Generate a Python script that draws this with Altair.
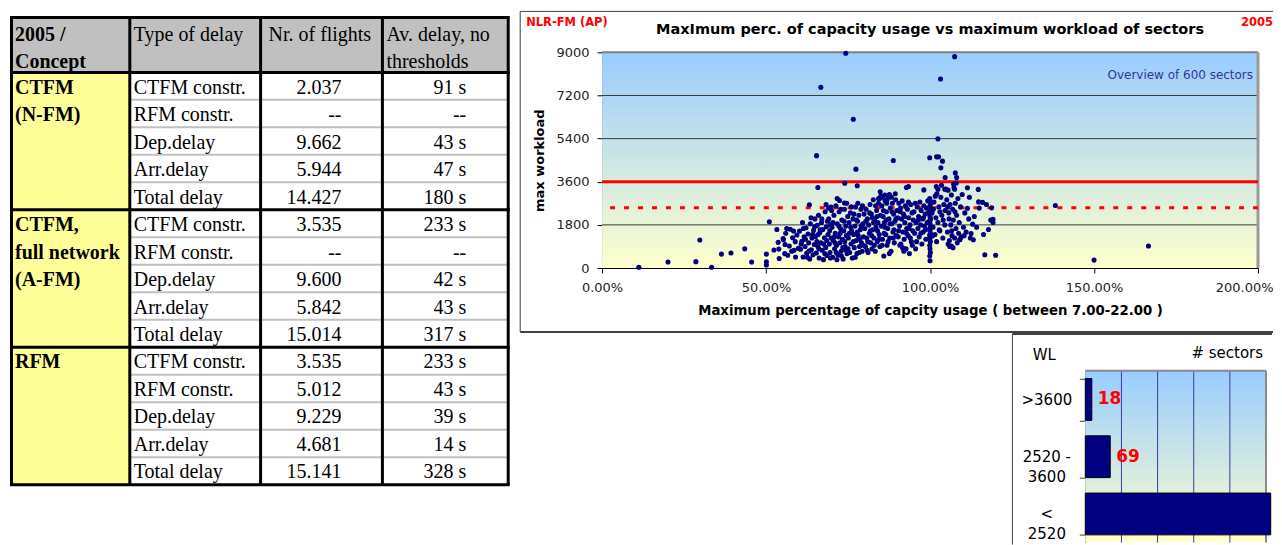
import altair as alt
import pandas as pd

# ---------------- data: table ----------------
header_cells = ["2005 /|Concept", "Type of delay", "Nr. of flights", "Av. delay, no|thresholds"]
concepts = ["CTFM|(N-FM)", "CTFM,|full network|(A-FM)", "RFM"]
delay_types = ["CTFM constr.", "RFM constr.", "Dep.delay", "Arr.delay", "Total delay"]
flights = [
    ["2.037", "--", "9.662", "5.944", "14.427"],
    ["3.535", "--", "9.600", "5.842", "15.014"],
    ["3.535", "5.012", "9.229", "4.681", "15.141"],
]
avg_delay = [
    ["91 s", "--", "43 s", "47 s", "180 s"],
    ["233 s", "--", "42 s", "43 s", "317 s"],
    ["233 s", "43 s", "39 s", "14 s", "328 s"],
]

# ---------------- data: scatter (max % capacity usage, max workload) ----------------
sectors = [
    (74.3, 8960), (107.5, 8820), (103.2, 7890), (66.7, 7540), (76.6, 6210), (102.4, 5390),
    (65.4, 4690), (88.8, 4490), (99.9, 4600), (102.0, 4640), (102.6, 4640), (103.8, 4460),
    (77.4, 4125), (103.3, 4180), (107.7, 3970), (104.6, 3780), (108.1, 3780), (74.0, 3540),
    (77.8, 3430), (65.8, 3360), (84.8, 3180), (87.6, 3070), (92.8, 3360), (93.4, 3400),
    (98.1, 3260), (71.7, 2900), (72.4, 2820), (73.9, 2710), (63.2, 2640), (68.3, 2650),
    (69.8, 2540), (51.0, 1930), (45.6, 250), (50.1, 580), (50.1, 260), (50.1, 125),
    (53.3, 1610), (56.3, 1650), (55.3, 1180), (53.7, 1070), (53.9, 790), (52.4, 750),
    (55.7, 600), (54.0, 400), (58.4, 1540), (58.5, 740),
    (101.9, 3400), (102.4, 3290), (104.5, 3290), (107.2, 3500), (107.5, 3290), (111.4, 3350),
    (114.7, 3280), (109.8, 3070), (112.0, 2950), (114.8, 2760), (116.0, 2740), (117.2, 2650),
    (118.8, 2510), (111.4, 2490), (119.2, 2030), (119.2, 1900), (113.0, 1830), (117.8, 1610),
    (112.5, 1440), (113.2, 1180), (110.4, 1350), (109.1, 1180), (116.7, 555), (120.0, 530),
    (138.2, 2610), (150.0, 330), (166.6, 920),
    (11.2, 30), (20.1, 250), (28.6, 265), (29.8, 1170), (33.4, 30), (36.4, 580), (39.3, 625),
    (43.5, 800), (105.5, 1000), (106.5, 920),
    (85.5, 2950), (86.2, 3050), (84.3, 2900), (86.9, 2850),
    (55.2, 1230), (56.0, 1450), (57.1, 920), (57.8, 700), (58.9, 1100), (59.4, 1380), (56.6, 530),
    (59.0, 460), (58.1, 1260), (59.8, 820), (57.4, 1620), (55.8, 980),
    (60.2, 1540), (60.5, 780), (60.9, 1120), (61.3, 460), (61.6, 1300), (61.9, 900), (62.2, 1680),
    (62.4, 620), (62.8, 1420), (63.0, 1050), (63.3, 380), (63.5, 1850), (63.8, 760), (64.0, 1250),
    (64.3, 550), (64.5, 1570), (64.7, 980), (64.9, 2050), (61.1, 1900), (62.0, 1200), (63.1, 710),
    (64.2, 1400), (60.7, 1000), (62.6, 450), (64.8, 1720), (63.7, 2100), (61.4, 1650),
    (65.1, 1320), (65.3, 620), (65.6, 1780), (65.8, 900), (66.0, 2200), (66.2, 420), (66.4, 1480),
    (66.7, 1050), (66.9, 1900), (67.1, 740), (67.3, 1610), (67.5, 350), (67.8, 1260), (68.0, 2350),
    (68.2, 860), (68.4, 1720), (68.6, 520), (68.9, 1400), (69.1, 2050), (69.3, 1000), (69.5, 650),
    (69.7, 1820), (69.9, 1250), (65.5, 1100), (66.5, 1600), (67.0, 2050), (67.6, 1000), (68.5, 1150),
    (69.0, 2500), (69.6, 420), (66.1, 800), (67.9, 600), (68.7, 1950), (65.9, 1400), (69.4, 1550),
    (70.1, 1700), (70.3, 450), (70.5, 1150), (70.7, 2200), (70.9, 800), (71.1, 1450), (71.3, 2600),
    (71.5, 950), (71.7, 1850), (71.9, 550), (72.1, 1300), (72.3, 2350), (72.5, 1050), (72.7, 1650),
    (72.9, 700), (73.1, 2000), (73.3, 1200), (73.5, 380), (73.7, 1550), (73.9, 2450), (74.1, 900),
    (74.3, 1750), (74.5, 1350), (74.7, 600), (74.9, 2150), (70.4, 1900), (71.0, 1050), (71.6, 350),
    (72.2, 1750), (72.8, 2450), (73.4, 850), (74.0, 1100), (74.6, 2700), (70.8, 1300), (71.4, 650),
    (72.6, 1450), (73.0, 500), (73.8, 1950), (74.4, 750), (70.0, 2400),
    (75.1, 1250), (75.3, 1900), (75.5, 650), (75.7, 2300), (75.9, 1000), (76.1, 1550), (76.3, 420),
    (76.5, 2050), (76.7, 1400), (76.9, 850), (77.1, 1750), (77.3, 2550), (77.5, 1150), (77.7, 600),
    (77.9, 1950), (78.1, 1350), (78.3, 2200), (78.5, 900), (78.7, 1600), (78.9, 2450), (79.1, 1050),
    (79.3, 700), (79.5, 1850), (79.7, 1300), (79.9, 2250), (75.4, 1450), (76.0, 2550), (76.6, 1100),
    (77.2, 450), (77.8, 1500), (78.4, 650), (79.0, 1750), (79.6, 950), (75.8, 1700), (76.8, 2250),
    (77.6, 2000), (78.6, 1200), (79.4, 2600), (75.0, 800), (78.0, 2700),
    (80.1, 1650), (80.3, 900), (80.5, 2450), (80.7, 1250), (80.9, 2050), (81.1, 650), (81.3, 1800),
    (81.5, 1450), (81.7, 2650), (81.9, 1050), (82.1, 2250), (82.3, 800), (82.5, 1600), (82.7, 2850),
    (82.9, 1250), (83.1, 2000), (83.3, 700), (83.5, 1700), (83.7, 2400), (83.9, 1100), (84.1, 1900),
    (84.3, 2700), (84.5, 1400), (84.7, 900), (84.9, 2200), (80.4, 1950), (81.0, 1100), (81.6, 2300),
    (82.2, 1350), (82.8, 1900), (83.4, 2600), (84.0, 1550), (84.6, 2900), (80.8, 750), (81.8, 1550),
    (82.4, 2100), (83.0, 950), (83.8, 2150), (84.4, 1200), (85.0, 3000),
    (85.1, 1750), (85.3, 2600), (85.5, 1200), (85.7, 2150), (85.9, 500), (86.1, 1900), (86.3, 2800),
    (86.5, 1400), (86.7, 2350), (86.9, 950), (87.1, 1650), (87.3, 3000), (87.5, 2050), (87.7, 1250),
    (87.9, 2500), (88.1, 700), (88.3, 1850), (88.5, 2700), (88.7, 1500), (88.9, 2250), (89.1, 1050),
    (89.3, 1950), (89.5, 2850), (89.7, 1350), (89.9, 2400), (85.4, 950), (86.0, 1450), (86.6, 2000),
    (87.2, 1100), (87.8, 1850), (88.4, 2350), (89.0, 1600), (89.6, 2050), (85.8, 2400), (86.8, 2700),
    (87.6, 600), (88.2, 2950), (88.8, 1250), (89.4, 3100), (86.2, 1700),
    (90.1, 2100), (90.3, 1300), (90.5, 2700), (90.7, 1750), (90.9, 2350), (91.1, 1000), (91.3, 2050),
    (91.5, 2800), (91.7, 1500), (91.9, 2250), (92.1, 1200), (92.3, 1900), (92.5, 2600), (92.7, 800),
    (92.9, 1650), (93.1, 2450), (93.3, 1350), (93.5, 2100), (93.7, 600), (93.9, 1800), (94.1, 2650),
    (94.3, 1100), (94.5, 2300), (94.7, 1550), (94.9, 2000), (90.4, 1550), (91.0, 2500), (91.6, 850),
    (92.2, 2150), (92.8, 1450), (93.4, 2750), (94.0, 1250), (94.6, 950), (90.8, 950), (92.0, 700),
    (93.6, 1650),
    (95.1, 2350), (95.3, 1450), (95.5, 2700), (95.7, 1900), (95.9, 1100), (96.1, 2550), (96.3, 1650),
    (96.5, 2150), (96.7, 1300), (96.9, 2750), (97.1, 1800), (97.3, 2400), (97.5, 1000), (97.7, 2050),
    (97.9, 1500), (98.1, 2600), (98.3, 1750), (98.5, 2250), (98.7, 1200), (98.9, 2500), (99.1, 1900),
    (99.3, 2800), (95.6, 800), (96.4, 2000), (97.2, 1450), (98.0, 2100), (98.6, 1600), (99.5, 2300),
    (100.0, 300), (99.9, 500), (100.1, 650), (100.0, 800), (99.9, 950), (100.1, 1100), (100.0, 1250),
    (99.9, 1350), (100.1, 1450), (100.0, 1550), (99.9, 1650), (100.1, 1750), (100.0, 1850),
    (99.9, 1950), (100.1, 2050), (100.0, 2150), (99.9, 2250), (100.1, 2350), (100.0, 2450),
    (99.9, 2550), (100.1, 2650), (100.0, 2800), (99.9, 2900), (100.0, 1400), (100.1, 1700),
    (100.0, 2000),
    (100.6, 2300), (100.9, 1700), (101.2, 2750), (101.5, 1400), (101.8, 2100), (102.1, 3100),
    (102.4, 1900), (102.7, 2550), (103.0, 1550), (103.3, 2950), (103.6, 2200), (103.9, 1250),
    (104.2, 2650), (104.5, 1800), (104.8, 3300), (101.0, 2450), (102.0, 1100), (103.0, 2350),
    (104.0, 2000), (101.6, 3000), (102.8, 1600), (104.6, 2400), (100.8, 1350), (103.5, 3450),
    (105.1, 2850), (105.3, 1500), (105.5, 3250), (105.7, 2300), (105.9, 1150), (106.1, 2650),
    (106.3, 1800), (106.5, 3050), (106.7, 1350), (106.9, 2450), (107.1, 2000), (107.3, 3350),
    (107.5, 1250), (107.7, 2700), (107.9, 1650), (108.1, 2200), (108.3, 1050), (108.5, 2900),
    (108.7, 1450), (108.9, 1900), (109.1, 1200), (109.3, 2550), (106.0, 900), (107.0, 850),
    (105.8, 2050), (106.6, 1550), (108.0, 3550), (109.5, 1300), (105.4, 2550), (107.6, 2350),
    (110.2, 1700), (110.6, 2300), (111.0, 1500), (111.8, 2050), (112.3, 1250), (113.5, 2150),
    (114.2, 1700), (115.0, 2500), (116.3, 1400), (118.5, 2000),
]
grid_workload = [1800, 5400, 7200]
wl_limit = [3600]
wl_warning = [2520]

# ---------------- data: bar chart ----------------
wl_classes = [">3600", "2520 -|3600", "<|2520"]
n_sectors = [18, 69, 513]
bar_grid = [100, 200, 300, 400]

FONT = "DejaVu Sans"
SERIF = "Liberation Serif"
one = pd.DataFrame({"k": [0]})

# ============================ TABLE ============================
COL_EDGES = [1.5, 120, 251, 373, 499]
HEADER_ROWS = 2
ROWS = 5
n_groups = len(concepts)
total_rows = HEADER_ROWS + n_groups * ROWS

fills = [dict(x0=COL_EDGES[0], x1=COL_EDGES[-1], y0=0, y1=HEADER_ROWS, fill="#C0C0C0")]
for g in range(n_groups):
    fills.append(dict(x0=COL_EDGES[0], x1=COL_EDGES[1], y0=HEADER_ROWS + g * ROWS,
                      y1=HEADER_ROWS + (g + 1) * ROWS, fill="#FFFF99"))
fill_df = pd.DataFrame(fills)

lines = []
for g in range(n_groups):
    for k in range(1, ROWS):
        y = HEADER_ROWS + g * ROWS + k
        lines.append(dict(x0=COL_EDGES[1], x1=COL_EDGES[-1], y0=y, y1=y, c="#C0C0C0", w=2))
for y in [0, HEADER_ROWS] + [HEADER_ROWS + (g + 1) * ROWS for g in range(n_groups)]:
    lines.append(dict(x0=COL_EDGES[0] - 1.5, x1=COL_EDGES[-1] + 1.5, y0=y, y1=y, c="black", w=3))
for x in COL_EDGES:
    lines.append(dict(x0=x, x1=x, y0=0, y1=total_rows, c="black", w=3))
line_df = pd.DataFrame(lines)

texts = []
header_x = [5, 124, 259, 377]
for j, h in enumerate(header_cells):
    for i, ln in enumerate(h.split("|")):
        texts.append(dict(x=header_x[j], y=0.6 + 0.97 * i, t=ln, kind="bold" if j == 0 else "left"))
for g in range(n_groups):
    for i, ln in enumerate(concepts[g].split("|")):
        texts.append(dict(x=5, y=HEADER_ROWS + g * ROWS + i + 0.5, t=ln, kind="bold"))
    for k in range(ROWS):
        yc = HEADER_ROWS + g * ROWS + k + 0.5
        texts.append(dict(x=124, y=yc, t=delay_types[k], kind="left"))
        texts.append(dict(x=332, y=yc, t=flights[g][k], kind="right"))
        texts.append(dict(x=457, y=yc, t=avg_delay[g][k], kind="right"))
text_df = pd.DataFrame(texts)

tx = alt.Scale(domain=[0, 500], range=[0, 500])
ty = alt.Scale(domain=[0, total_rows], range=[9, 477])

t_fill = alt.Chart(fill_df).mark_rect().encode(
    x=alt.X("x0:Q", scale=tx, axis=None), x2="x1:Q",
    y=alt.Y("y0:Q", scale=ty, axis=None), y2="y1:Q",
    color=alt.Color("fill:N", scale=None))
t_lines = alt.Chart(line_df).mark_rule().encode(
    x=alt.X("x0:Q", scale=tx, axis=None), x2="x1:Q",
    y=alt.Y("y0:Q", scale=ty, axis=None), y2="y1:Q",
    color=alt.Color("c:N", scale=None),
    strokeWidth=alt.StrokeWidth("w:Q", scale=None))


def tlayer(kind, align, weight):
    return alt.Chart(text_df).transform_filter(f"datum.kind == '{kind}'").mark_text(
        align=align, baseline="middle", font=SERIF, fontSize=20, fontWeight=weight,
        color="black", dy=1.5).encode(
        x=alt.X("x:Q", scale=tx, axis=None), y=alt.Y("y:Q", scale=ty, axis=None), text="t:N")


table = alt.layer(t_fill, t_lines, tlayer("left", "left", "normal"),
                  tlayer("bold", "left", "bold"), tlayer("right", "right", "normal")
                  ).properties(width=500, height=477)

# ============================ SCATTER ============================
SW, SH = 657, 216
RIGHT_LIMIT = 672  # last visible pixel column relative to the scatter plot origin
sc_df = pd.DataFrame(sectors, columns=["pct", "wl"])
sx = alt.Scale(domain=[0, 200], nice=False)
sy = alt.Scale(domain=[0, 9000], nice=False)
X = alt.X("pct:Q", scale=sx, title="Maximum percentage of capcity usage ( between 7.00-22.00 )",
          axis=alt.Axis(values=[0, 50, 100, 150, 200], labelExpr="format(datum.value / 100, '.2%')",
                        labelAlign={"condition": {"test": "datum.value == 200", "value": "right"},
                                    "value": "center"},
                        labelOffset={"condition": {"test": "datum.value == 200", "value": 15},
                                     "value": 0},
                        grid=False, tickSize=5, tickColor="black", domainColor="black",
                        labelFont=FONT, labelFontSize=13, labelColor="#222", labelPadding=9,
                        labelFlush=False, titleFont=FONT, titleFontSize=13.3, titleFontWeight="bold",
                        titleColor="black", titlePadding=9))
Y = alt.Y("wl:Q", scale=sy, title="max workload",
          axis=alt.Axis(values=[0, 1800, 3600, 5400, 7200, 9000], format="d", grid=False,
                        tickSize=5, tickColor="black", domainColor="black", labelFont=FONT,
                        labelFontSize=13, labelColor="#222", labelPadding=8, titleFont=FONT,
                        titleFontSize=13, titleFontWeight="bold", titleColor="black",
                        titlePadding=10))

grad = alt.LinearGradient(gradient="linear",
                          stops=[alt.GradientStop(color="#99CCFF", offset=0),
                                 alt.GradientStop(color="#FFFFCC", offset=1)],
                          x1=0, x2=0, y1=0, y2=1)

bg_df = pd.DataFrame({"pct": [0], "pct2": [200], "wl": [0], "wl2": [9000]})
s_bg = alt.Chart(bg_df).mark_rect(fill=grad).encode(x=X, x2="pct2:Q", y=Y, y2="wl2:Q")
s_grid = alt.Chart(pd.DataFrame({"wl": grid_workload})).mark_rule(
    color="#3a3a3a", strokeWidth=1).encode(y=Y)
s_top = alt.Chart(pd.DataFrame({"wl": [9000]})).mark_rule(color="#808080", strokeWidth=2).encode(y=Y)
s_right = alt.Chart(pd.DataFrame({"pct": [200]})).mark_rule(color="#9a9a9a", strokeWidth=3).encode(x=X)
s_limit = alt.Chart(pd.DataFrame({"wl": wl_limit})).mark_rule(color="#FF0000", strokeWidth=3).encode(y=Y)
s_warn = alt.Chart(pd.DataFrame({"wl": wl_warning})).mark_rule(
    color="#FF0000", strokeWidth=3, strokeDash=[5, 9]).encode(y=Y)
s_pts = alt.Chart(sc_df).mark_circle(color="#000080", size=26, opacity=1).encode(x=X, y=Y)

frame_style = dict(color="#404040", strokeWidth=1)
s_frame_top = alt.Chart(one).mark_rule(**frame_style).encode(
    x=alt.value(-82), x2=alt.value(RIGHT_LIMIT), y=alt.value(-41))
s_frame_bot = alt.Chart(one).mark_rule(color="#404040", strokeWidth=2).encode(
    x=alt.value(-82), x2=alt.value(RIGHT_LIMIT), y=alt.value(280))
s_frame_left = alt.Chart(one).mark_rule(**frame_style).encode(
    x=alt.value(-82), y=alt.value(-41), y2=alt.value(280))
s_title = alt.Chart(one).mark_text(
    text="MaxImum perc. of capacity usage vs maximum workload of sectors", font=FONT, fontSize=14.5,
    fontWeight="bold", color="black", align="center", baseline="middle").encode(
    x=alt.value(SW / 2), y=alt.value(-22))
s_tag = alt.Chart(one).mark_text(text="NLR-FM (AP)", font=FONT, fontSize=11.5, fontWeight="bold",
                                 color="#FF0000", align="left", baseline="middle").encode(
    x=alt.value(-76), y=alt.value(-29))
s_year = alt.Chart(one).mark_text(text="2005", font=FONT, fontSize=11.5, fontWeight="bold",
                                  color="#FF0000", align="right", baseline="middle").encode(
    x=alt.value(RIGHT_LIMIT), y=alt.value(-29))
s_note = alt.Chart(one).mark_text(text="Overview of 600 sectors", font=FONT, fontSize=12,
                                  color="#333399", align="right", baseline="middle").encode(
    x=alt.value(652), y=alt.value(23))

scatter = alt.layer(s_bg, s_grid, s_top, s_right, s_warn, s_limit, s_pts, s_note,
                    s_title, s_tag, s_year, s_frame_top, s_frame_bot, s_frame_left
                    ).properties(width=SW, height=SH)

# ============================ BAR ============================
BW, BH = 181, 172
bar_df = pd.DataFrame({"wl": wl_classes, "n": n_sectors})
BY = alt.Y("wl:N", sort=wl_classes, title=None,
           scale=alt.Scale(paddingInner=0.27, paddingOuter=0.135),
           axis=alt.Axis(labelExpr="split(datum.label, '|')", labelAlign="center",
                         labelBaseline="middle", labelPadding=33, tickBand="extent", tickSize=6,
                         labelFont=FONT, labelFontSize=15, labelColor="black", labelLineHeight=20,
                         domainColor="#404040", tickColor="#404040"))
BX = alt.X("n:Q", scale=alt.Scale(domain=[0, 500], nice=False), axis=None)

b_bg = alt.Chart(one).mark_rect(fill=grad).encode(
    x=alt.value(0), x2=alt.value(BW), y=alt.value(0), y2=alt.value(BH))
b_grid = alt.Chart(pd.DataFrame({"n": bar_grid})).mark_rule(color="#3c3c9c", strokeWidth=1).encode(x=BX)
b_right = alt.Chart(pd.DataFrame({"n": [500]})).mark_rule(color="#8a8a8a", strokeWidth=2).encode(x=BX)
b_top = alt.Chart(one).mark_rule(color="#8a8a8a", strokeWidth=2).encode(y=alt.value(0))
b_bars = alt.Chart(bar_df).mark_bar(color="#000080", stroke="black", strokeWidth=1).encode(x=BX, y=BY)
b_labels = alt.Chart(bar_df).transform_filter("datum.n < 500").mark_text(
    align="left", baseline="middle", dx=6, font=FONT, fontSize=17, fontWeight="bold",
    color="#FF0000").encode(x=BX, y=BY, text="n:Q")
b_wl = alt.Chart(one).mark_text(text="WL", font=FONT, fontSize=15, color="black",
                                align="center", baseline="middle").encode(
    x=alt.value(-41), y=alt.value(-16))
b_sec = alt.Chart(one).mark_text(text="# sectors", font=FONT, fontSize=15, color="black",
                                 align="right", baseline="middle").encode(
    x=alt.value(178), y=alt.value(-18))
b_frame_top = alt.Chart(one).mark_rule(color="#404040", strokeWidth=2).encode(
    x=alt.value(-73), x2=alt.value(187), y=alt.value(-37))
b_frame_left = alt.Chart(one).mark_rule(color="#404040", strokeWidth=1).encode(
    x=alt.value(-73), y=alt.value(-37), y2=alt.value(174))

bar = alt.layer(b_bg, b_grid, b_right, b_top, b_bars, b_labels, b_wl, b_sec,
                b_frame_top, b_frame_left).properties(width=BW, height=BH)


# ============================ LAYOUT ============================
def spacer(w, h):
    return alt.Chart(one).mark_point(opacity=0, size=1).encode(
        x=alt.value(5), y=alt.value(5)).properties(width=w, height=h)


bar_row = alt.hconcat(spacer(484, BH), bar, spacing=0, bounds="flush")
right = alt.vconcat(spacer(SW, 44), scatter, spacer(SW, 103), bar_row, spacing=0, bounds="flush")
chart = alt.hconcat(table, right, spacing=93, bounds="flush").properties(
    padding=0, background="white"
).configure(font=FONT).configure_view(strokeWidth=0, stroke="transparent")

chart.save("out.html", embed_options={"renderer": "svg", "actions": False})
